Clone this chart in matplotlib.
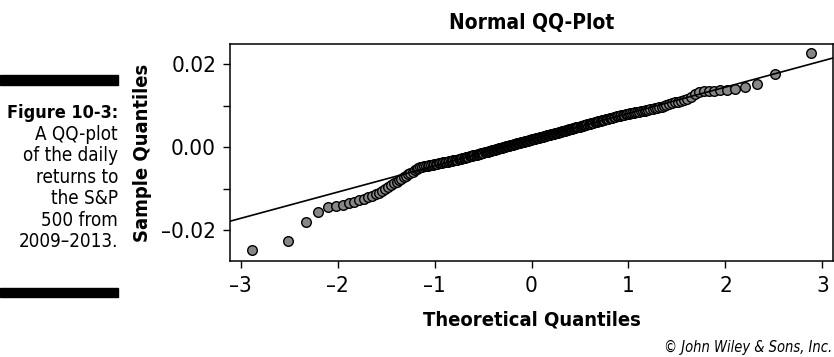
import numpy as np
import matplotlib.pyplot as plt
from matplotlib.patches import Rectangle
from matplotlib.ticker import FixedLocator, FixedFormatter
from statistics import NormalDist

plt.rcParams['font.family'] = ['DejaVu Sans']
plt.rcParams['font.stretch'] = 'condensed'

# Sorted daily returns of the S&P 500, in basis points
returns_bp = [
    -248, -227, -181, -157, -143, -142, -139, -135, -132, -128,
    -125, -121, -117, -113, -110, -105, -100, -95, -91, -87,
    -83, -79, -76, -72, -69, -65, -62, -59, -56, -53,
    -50, -48, -46.8, -46.1, -45.2, -44.3, -43.5, -42.7, -41.9, -41.2,
    -40.4, -39.7, -39.0, -38.3, -37.5, -36.9, -36.2, -35.5, -34.8, -34.1,
    -33.5, -32.9, -32.2, -31.6, -31.0, -30.3, -29.8, -28.9, -28.1, -27.3,
    -26.5, -25.6, -24.8, -24.0, -23.3, -22.4, -21.7, -20.9, -20.2, -19.4,
    -18.6, -17.9, -17.1, -16.4, -15.7, -15.0, -14.2, -13.5, -12.8, -12.0,
    -11.3, -10.6, -9.9, -9.2, -8.5, -7.8, -7.1, -6.4, -5.8, -5.1,
    -4.4, -3.7, -3.1, -2.4, -1.7, -1.1, -0.4, 0.3, 0.9, 1.6,
    2.3, 2.9, 3.5, 4.2, 4.9, 5.5, 6.1, 6.8, 7.5, 8.1,
    8.7, 9.4, 10.0, 10.6, 11.3, 12.0, 12.6, 13.2, 13.9, 14.5,
    15.1, 15.8, 16.4, 17.0, 17.7, 18.3, 19.0, 19.6, 20.2, 20.9,
    21.5, 22.1, 22.8, 23.4, 24.0, 24.7, 25.4, 26.0, 26.6, 27.3,
    27.9, 28.5, 29.2, 29.9, 30.5, 31.1, 31.8, 32.5, 33.1, 33.7,
    34.4, 35.1, 35.7, 36.4, 37.1, 37.7, 38.4, 39.1, 39.7, 40.4,
    41.1, 41.8, 42.4, 43.1, 43.8, 44.5, 45.2, 45.9, 46.6, 47.3,
    48.0, 48.8, 49.5, 50.2, 51.0, 51.7, 52.4, 53.1, 53.9, 54.6,
    55.4, 56.2, 56.9, 57.7, 58.4, 59.3, 60.0, 60.8, 61.6, 62.5,
    63.3, 64.1, 64.9, 65.8, 66.6, 67.5, 68.4, 69.2, 70.1, 71.0,
    71.9, 72.8, 73.8, 74.7, 75.6, 76.3, 77.0, 77.8, 78.5, 79.3,
    80.2, 80.9, 81.8, 82.6, 83.4, 84.4, 85.3, 86.1, 87.1, 88.0,
    88.9, 90.0, 91.0, 92.0, 93.0, 94.2, 95.7, 97.6, 99.4, 101.4,
    103.5, 105.9, 107.5, 109.1, 111.0, 112.8, 115, 121, 128, 133,
    134, 135, 136, 136.5, 137.5, 140.6, 145.5, 152.7, 175.3, 225.7,
]

x_ticks = [-3, -2, -1, 0, 1, 2, 3]
x_tick_labels = ['\u20133', '\u20132', '\u20131', '0', '1', '2', '3']
y_ticks = [-0.02, -0.01, 0.0, 0.01, 0.02]
y_tick_labels = ['\u20130.02', '', '0.00', '', '0.02']

caption_head = 'Figure 10-3:'
caption_lines = ['A QQ-plot', 'of the daily', 'returns to', 'the S&P',
                 '500 from', '2009\u20132013.']

returns = np.array(returns_bp) / 1e4
n = len(returns)

# theoretical normal quantiles at plotting positions (i - 0.5) / n
norm = NormalDist()
probs = (np.arange(1, n + 1) - 0.5) / n
theo = np.array([norm.inv_cdf(p) for p in probs])

# reference line through the first and third quartiles
q_y = np.percentile(returns, [25, 75])
q_x = np.array([norm.inv_cdf(0.25), norm.inv_cdf(0.75)])
slope = (q_y[1] - q_y[0]) / (q_x[1] - q_x[0])
intercept = q_y[0] - slope * q_x[0]

W, H = 834, 357
fig = plt.figure(figsize=(W / 100, H / 100), dpi=100)
ax = fig.add_axes([230 / W, 1 - 261 / H, 603 / W, 217 / H])

ax.scatter(theo, returns, s=48, facecolor='#878787', edgecolor='black',
           linewidth=1.0, zorder=2)
ax.axline((0, intercept), slope=slope, color='black', linewidth=1.2, zorder=3)

pad = 0.04 * (theo.max() - theo.min())
ax.set_xlim(theo.min() - pad, theo.max() + pad)
ax.set_ylim(-0.0274, 0.0248)

ax.xaxis.set_major_locator(FixedLocator(x_ticks))
ax.xaxis.set_major_formatter(FixedFormatter(x_tick_labels))
ax.yaxis.set_major_locator(FixedLocator(y_ticks))
ax.yaxis.set_major_formatter(FixedFormatter(y_tick_labels))
ax.tick_params(direction='out', length=5, width=1, labelsize=16, pad=5,
               colors='black')
ax.tick_params(axis='x', pad=6)
for sp in ax.spines.values():
    sp.set_linewidth(1.1)

ax.set_title('Normal QQ-Plot', fontsize=15, fontweight='bold', pad=10.5)
ax.set_xlabel('Theoretical Quantiles', fontsize=14.5, fontweight='bold')
ax.set_ylabel('Sample Quantiles', fontsize=14.5, fontweight='bold')
ax.xaxis.set_label_coords(0.5, -0.23)
ax.yaxis.set_label_coords(-0.13, 0.5)

# caption block on the left
fig.text(118 / W, 1 - 118.3 / H, caption_head, ha='right', va='baseline',
         fontsize=13, fontweight='bold')
for k, line in enumerate(caption_lines):
    fig.text(118 / W, 1 - (140 + 21.4 * k) / H, line, ha='right',
             va='baseline', fontsize=13.5)
fig.patches.append(Rectangle((0, 1 - 85 / H), 118 / W, 10 / H,
                             transform=fig.transFigure, color='black'))
fig.patches.append(Rectangle((0, 1 - 297 / H), 118 / W, 9 / H,
                             transform=fig.transFigure, color='black'))

fig.text(832 / W, 1 - 352 / H, '\u00a9 John Wiley & Sons, Inc.', ha='right',
         va='baseline', fontsize=10.5, style='italic')

fig.savefig('out.png', dpi=100)
